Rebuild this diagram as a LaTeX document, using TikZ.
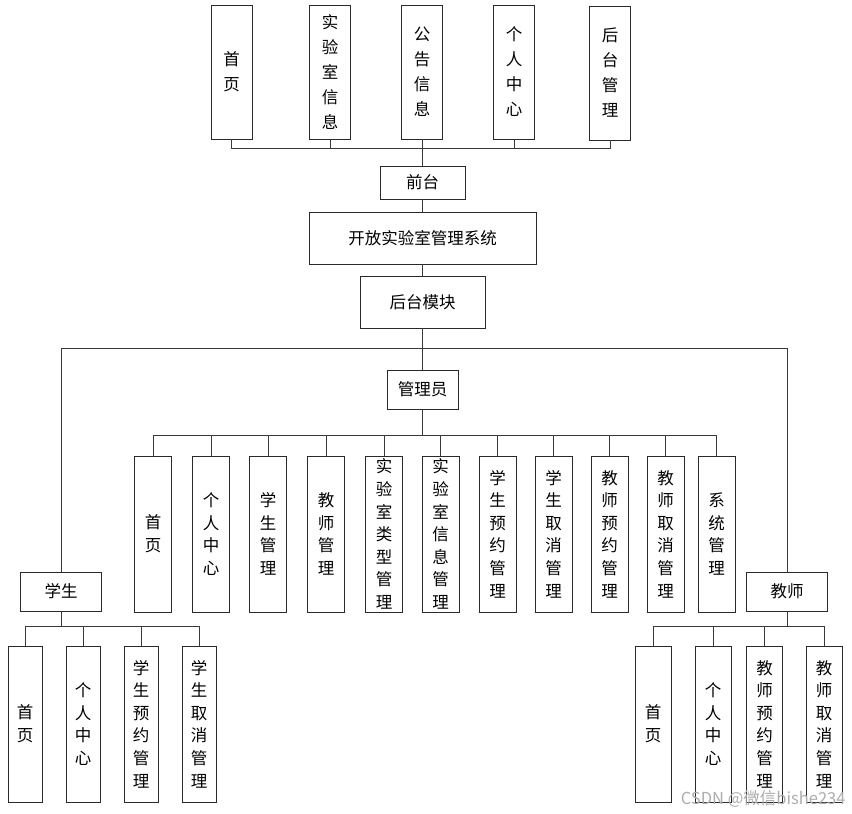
\documentclass[tikz,border=0pt]{standalone}
\usepackage{fontspec}
\setmainfont{Noto Sans CJK SC}
\usepackage{tikz}
\usetikzlibrary{positioning}
\definecolor{boxline}{HTML}{2A2A2A}
\definecolor{wire}{HTML}{3A3A3A}

\begin{document}
\begin{tikzpicture}[
  x=1pt,y=-1pt,
  box/.style={draw=boxline,fill=white,line width=0.9pt,inner sep=0pt,align=center,
    font=\fontsize{16.5}{25}\selectfont},
  topbox/.style={box,minimum width=41pt,minimum height=134pt},
  midbox/.style={box,minimum height=52pt},
  rolebox/.style={box,minimum height=39pt},
  leaf/.style={box,minimum width=37pt,minimum height=156pt,font=\fontsize{16.5}{22.6}\selectfont},
  sleaf/.style={leaf,minimum width=34pt},
  tleaf/.style={leaf,minimum width=36pt},
  wire/.style={draw=wire,line width=1pt}
]
\useasboundingbox (0,0) rectangle (852,814);

% front part
\node[topbox] (home) at (231.5,72) {首\\页};
\node[topbox] (labinfo) at (330,72) {实\\验\\室\\信\\息};
\node[topbox] (notice) at (422,72) {公\\告\\信\\息};
\node[topbox] (center) at (514,72) {个\\人\\中\\心};
\node[topbox] (admin) at (610,73) {后\\台\\管\\理};
\node[box,minimum width=85pt,minimum height=33pt] (front) at (422.5,182.5) {前台};

% system and back part
\node[midbox,minimum width=227pt] (sys) at (422.5,238) {开放实验室管理系统};
\node[midbox,minimum width=125pt] (back) at (422.5,302) {后台模块};
\node[rolebox,minimum width=71pt] (mgr) at (422.5,389.5) {管理员};
\node[rolebox,minimum width=81pt] (stu) at (61,591.5) {学生};
\node[rolebox,minimum width=81pt] (tea) at (787,591.5) {教师};

% manager leaves
\node[leaf] (m1) at (153,534) {首\\页};
\node[leaf] (m2) at (211,534) {个\\人\\中\\心};
\node[leaf] (m3) at (268,534) {学\\生\\管\\理};
\node[leaf] (m4) at (326,534) {教\\师\\管\\理};
\node[leaf] (m5) at (384,534) {实\\验\\室\\类\\型\\管\\理};
\node[leaf] (m6) at (440.5,534) {实\\验\\室\\信\\息\\管\\理};
\node[leaf] (m7) at (497.5,534) {学\\生\\预\\约\\管\\理};
\node[leaf] (m8) at (553.5,534) {学\\生\\取\\消\\管\\理};
\node[leaf] (m9) at (609.5,534) {教\\师\\预\\约\\管\\理};
\node[leaf] (m10) at (665.5,534) {教\\师\\取\\消\\管\\理};
\node[leaf] (m11) at (716.5,534) {系\\统\\管\\理};

% student leaves
\node[sleaf] (s1) at (25,724) {首\\页};
\node[sleaf] (s2) at (83,724) {个\\人\\中\\心};
\node[sleaf] (s3) at (141,724) {学\\生\\预\\约\\管\\理};
\node[sleaf] (s4) at (199,724) {学\\生\\取\\消\\管\\理};

% teacher leaves
\node[tleaf] (t1) at (653,724) {首\\页};
\node[tleaf] (t2) at (713,724) {个\\人\\中\\心};
\node[tleaf] (t3) at (764.5,724) {教\\师\\预\\约\\管\\理};
\node[tleaf] (t4) at (824,724) {教\\师\\取\\消\\管\\理};

% bus points
\coordinate (fbus) at (422.5,148);
\coordinate (rbus) at (422.5,348);
\coordinate (mbus) at (422.5,435);
\coordinate (sbus) at (61,626);
\coordinate (tbus) at (787,626);

% wires
\draw[wire] (home.south) |- (fbus);
\draw[wire] (labinfo.south) |- (fbus);
\draw[wire] (notice.south) |- (fbus);
\draw[wire] (center.south) |- (fbus);
\draw[wire] (admin.south) |- (fbus);
\draw[wire] (fbus) -- (front.north);
\draw[wire] (front.south) -- (sys.north);
\draw[wire] (sys.south) -- (back.north);
\draw[wire] (back.south) -- (mgr.north);
\draw[wire] (rbus) -| (stu.north);
\draw[wire] (rbus) -| (tea.north);
\draw[wire] (mgr.south) -- (mbus);
\draw[wire] (mbus) -| (m1.north);
\draw[wire] (mbus) -| (m2.north);
\draw[wire] (mbus) -| (m3.north);
\draw[wire] (mbus) -| (m4.north);
\draw[wire] (mbus) -| (m5.north);
\draw[wire] (mbus) -| (m6.north);
\draw[wire] (mbus) -| (m7.north);
\draw[wire] (mbus) -| (m8.north);
\draw[wire] (mbus) -| (m9.north);
\draw[wire] (mbus) -| (m10.north);
\draw[wire] (mbus) -| (m11.north);
\draw[wire] (stu.south) -- (sbus);
\draw[wire] (sbus) -| (s1.north);
\draw[wire] (sbus) -| (s2.north);
\draw[wire] (sbus) -| (s3.north);
\draw[wire] (sbus) -| (s4.north);
\draw[wire] (tea.south) -- (tbus);
\draw[wire] (tbus) -| (t1.north);
\draw[wire] (tbus) -| (t2.north);
\draw[wire] (tbus) -| (t3.north);
\draw[wire] (tbus) -| (t4.north);

% watermark
\node[text=black!32,font=\fontsize{16.5}{16.5}\selectfont,anchor=east] (wm) at (849,799) {CSDN @微信bishe234};
\end{tikzpicture}
\end{document}
